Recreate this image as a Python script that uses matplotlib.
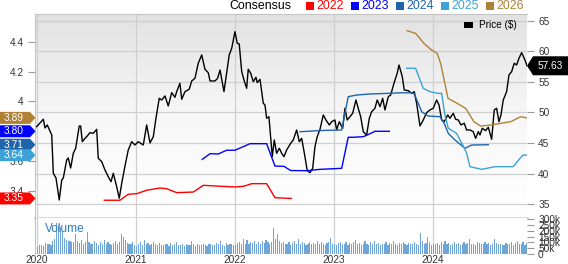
import numpy as np
import matplotlib
matplotlib.use("Agg")
import matplotlib.pyplot as plt
from matplotlib.colors import LinearSegmentedColormap
from matplotlib.patches import Polygon, Rectangle

plt.rcParams['font.family'] = ['Liberation Sans', 'DejaVu Sans']

# ---------- data (time in years since 2020-01-01) ----------
price_t = [0.000, 0.067, 0.084, 0.107, 0.152, 0.168, 0.195, 0.228, 0.253, 0.269,
           0.303, 0.319, 0.343, 0.370, 0.394, 0.430, 0.444, 0.461, 0.488, 0.511,
           0.538, 0.572, 0.606, 0.622, 0.657, 0.690, 0.723, 0.751, 0.774, 0.808,
           0.834, 0.859, 0.892, 0.925, 0.960, 0.993, 1.026, 1.077, 1.111, 1.145,
           1.178, 1.205, 1.238, 1.263, 1.296, 1.329, 1.364, 1.397, 1.414, 1.447,
           1.465, 1.498, 1.541, 1.566, 1.599, 1.632, 1.667, 1.700, 1.733, 1.751,
           1.801, 1.828, 1.852, 1.892, 1.945, 1.970, 2.003, 2.026, 2.046, 2.071,
           2.094, 2.121, 2.137, 2.162, 2.188, 2.215, 2.228, 2.256, 2.289, 2.306,
           2.323, 2.346, 2.380, 2.400, 2.424, 2.451, 2.475, 2.498, 2.525, 2.566,
           2.592, 2.626, 2.653, 2.677, 2.710, 2.733, 2.761, 2.788, 2.811, 2.834,
           2.862, 2.895, 2.922, 2.956, 2.980, 3.013, 3.030, 3.057, 3.091, 3.114,
           3.137, 3.165, 3.192, 3.225, 3.248, 3.273, 3.299, 3.333, 3.360, 3.384,
           3.417, 3.440, 3.468, 3.495, 3.518, 3.552, 3.576, 3.609, 3.642, 3.660,
           3.693, 3.713, 3.754, 3.788, 3.814, 3.838, 3.872, 3.905, 3.939, 3.973,
           4.006, 4.040, 4.064, 4.091, 4.117, 4.152, 4.175, 4.208, 4.232, 4.259,
           4.286, 4.319, 4.343, 4.377, 4.410, 4.434, 4.461, 4.478, 4.501, 4.535,
           4.562, 4.596, 4.622, 4.646, 4.670, 4.690, 4.713, 4.747, 4.771, 4.798,
           4.824, 4.848, 4.872, 4.899, 4.932, 4.953]
price_v = [47.68, 48.89, 47.47, 47.96, 46.32, 40.07, 39.30, 35.70, 38.97, 39.30,
           42.24, 42.57, 40.93, 43.33, 44.15, 47.79, 47.79, 45.23, 45.78, 46.16,
           46.70, 46.60, 47.25, 42.52, 41.96, 40.60, 39.51, 38.69, 40.07, 37.88,
           35.98, 38.43, 41.26, 43.87, 45.23, 44.69, 45.23, 44.69, 47.96, 45.02,
           46.05, 49.05, 52.32, 52.04, 52.70, 51.06, 53.24, 52.48, 53.40, 54.77,
           52.16, 53.40, 53.79, 55.15, 55.59, 58.04, 59.40, 57.06, 56.50, 55.15,
           55.15, 55.59, 56.94, 53.40, 59.40, 60.49, 63.20, 61.31, 61.19, 56.67,
           55.31, 53.95, 57.06, 56.41, 55.03, 55.75, 54.87, 55.42, 51.50, 51.23,
           49.05, 49.31, 42.78, 45.51, 43.33, 44.15, 43.33, 42.78, 43.87, 44.97,
           45.51, 47.14, 45.23, 45.78, 42.78, 40.49, 40.16, 40.88, 44.41, 46.05,
           47.25, 49.59, 48.77, 47.96, 48.50, 48.77, 47.14, 48.50, 47.42, 50.69,
           48.77, 49.31, 49.87, 52.04, 50.69, 49.31, 46.86, 46.32, 49.05, 50.13,
           50.69, 52.04, 50.95, 52.32, 50.41, 52.58, 52.86, 54.77, 56.41, 57.76,
           55.85, 53.68, 53.56, 53.14, 53.40, 51.50, 47.79, 48.77, 49.97, 50.41,
           50.69, 52.04, 51.23, 48.77, 48.50, 49.59, 49.05, 49.87, 48.89, 48.77,
           47.96, 48.24, 47.14, 47.14, 46.86, 45.78, 46.86, 46.32, 47.42, 47.03,
           47.58, 45.62, 50.41, 50.69, 48.50, 49.59, 52.04, 53.40, 56.13, 56.67,
           58.04, 57.76, 58.86, 59.77, 58.58, 57.63]

eps22_t = [0.683, 0.841, 0.925, 1.010, 1.111, 1.245, 1.313, 1.414, 1.582, 1.683,
           1.818, 2.003, 2.087, 2.172, 2.323, 2.407, 2.572]
eps22_v = [3.338, 3.338, 3.378, 3.382, 3.405, 3.420, 3.415, 3.389, 3.393, 3.438,
           3.433, 3.427, 3.431, 3.449, 3.449, 3.355, 3.35]

eps23_t = [1.673, 1.751, 1.834, 1.919, 2.003, 2.155, 2.323, 2.407, 2.498, 2.566,
           2.727, 2.862, 3.081, 3.147, 3.198, 3.299, 3.339, 3.417, 3.562]
eps23_v = [3.612, 3.650, 3.648, 3.673, 3.673, 3.717, 3.717, 3.567, 3.565, 3.537,
           3.536, 3.545, 3.552, 3.760, 3.760, 3.764, 3.775, 3.80, 3.80]

eps24_t = [2.660, 2.862, 3.081, 3.147, 3.232, 3.367, 3.535, 3.670, 3.788, 3.814,
           3.855, 3.889, 3.956, 4.074, 4.117, 4.158, 4.225, 4.326, 4.394, 4.562]
eps24_v = [3.797, 3.805, 3.809, 4.032, 4.043, 4.050, 4.054, 4.058, 4.058, 4.050,
           3.987, 3.931, 3.902, 3.898, 3.853, 3.786, 3.742, 3.686, 3.708, 3.71]

eps25_t = [3.737, 3.828, 3.905, 3.973, 4.057, 4.091, 4.124, 4.158, 4.242, 4.309,
           4.343, 4.377, 4.495, 4.629, 4.814, 4.882, 4.915, 4.949]
eps25_v = [4.222, 4.222, 4.088, 4.065, 4.054, 4.054, 3.909, 3.820, 3.786, 3.701,
           3.653, 3.563, 3.545, 3.563, 3.563, 3.619, 3.641, 3.64]

eps26_t = [3.743, 3.828, 3.912, 3.980, 4.046, 4.081, 4.155, 4.248, 4.333, 4.417,
           4.485, 4.586, 4.720, 4.788, 4.889, 4.949]
eps26_v = [4.474, 4.456, 4.389, 4.349, 4.322, 4.255, 4.021, 3.987, 3.954, 3.864,
           3.835, 3.842, 3.857, 3.864, 3.898, 3.89]

# weekly volume, thousands of shares
volume_k = [
    60, 75, 80, 70, 95, 85, 90, 80, 110, 130, 270, 250, 230,
    200, 140, 120, 110, 115, 100, 105, 175, 110, 95, 120, 90, 100,
    190, 100, 90, 85, 110, 95, 80, 105, 85, 120, 90, 100, 85,
    80, 95, 110, 90, 100, 175, 150, 120, 95, 85, 90, 105, 80,
    70, 90, 100, 80, 120, 85, 95, 75, 90, 100, 85, 80, 95,
    80, 75, 90, 85, 70, 95, 80, 85, 100, 75, 80, 90, 70,
    85, 75, 80, 110, 90, 70, 85, 80, 75, 90, 80, 70, 85,
    90, 75, 80, 95, 85, 110, 80, 70, 95, 80, 85, 90, 75,
    80, 95, 100, 85, 130, 90, 120, 85, 100, 95, 110, 90, 100,
    85, 110, 95, 120, 100, 90, 105, 225, 130, 170, 110, 95, 100,
    90, 85, 100, 80, 95, 110, 90, 130, 85, 100, 95, 80, 90,
    105, 85, 95, 90, 110, 85, 100, 90, 80, 95, 100, 140, 90,
    85, 80, 95, 100, 90, 85, 105, 80, 95, 90, 100, 120, 85,
    95, 80, 90, 115, 85, 80, 100, 90, 110, 85, 95, 80, 90,
    85, 100, 80, 95, 90, 110, 85, 80, 95, 90, 105, 85, 80,
    95, 90, 85, 100, 90, 80, 185, 110, 90, 95, 150, 100, 80,
    90, 85, 95, 80, 100, 90, 115, 85, 95, 80, 90, 105, 85,
    95, 80, 90, 100, 85, 95, 130, 85, 90, 80, 100, 95, 85,
    90, 100, 85, 95, 80, 90, 130, 95, 85, 90, 80, 75, 95,
    85, 90, 100, 80, 95, 110, 85, 90, 100, 80, 95, 90, 100,
]

years = [2020, 2021, 2022, 2023, 2024]
price_ticks = [35, 40, 45, 50, 55, 60, 65]
eps_ticks = [3.4, 3.6, 3.8, 4.0, 4.2, 4.4]
eps_tick_labels = ['3.4', '3.6', '3.8', '4', '4.2', '4.4']
vol_ticks = [0, 50, 100, 150, 200, 250, 300]
vol_tick_labels = ['0', '50k', '100k', '150k', '200k', '250k', '300k']

series = [
    ('2022', '#ff0000', eps22_t, eps22_v),
    ('2023', '#0000ff', eps23_t, eps23_v),
    ('2024', '#1f64ab', eps24_t, eps24_v),
    ('2025', '#3fa2d6', eps25_t, eps25_v),
    ('2026', '#b08035', eps26_t, eps26_v),
]

# ---------- figure ----------
W, H = 568, 264
fig = plt.figure(figsize=(W / 100, H / 100), dpi=100)
L, R = 35 / W, 527 / W
ax = fig.add_axes([L, 1 - 218 / H, R - L, (218 - 14) / H])
ax_v = fig.add_axes([L, 1 - 254 / H, R - L, (254 - 218) / H])
ax_e = ax.twinx()   # EPS axis (left), created before fixing tick sides

xlo, xhi = 2019.983, 2024.953
tick_col = '#333333'
grid_col = '#cfcfcf'
fs = 7.3

# gradient background in price panel
cm = LinearSegmentedColormap.from_list('bg', ['#e2e2e2', '#f7f7f7', '#ffffff'])
grad = np.linspace(0, 1, 256).reshape(-1, 1)
ax.imshow(grad, extent=[0, 1, 0, 1], transform=ax.transAxes, aspect='auto',
          cmap=cm, zorder=0)

# ---------- price (right axis) ----------
t = np.array(price_t) + 2020
ax.plot(t, price_v, color='black', lw=1.0, zorder=3)
ax.set_xlim(xlo, xhi)
ax.set_ylim(32.76, 66.09)
ax.yaxis.tick_right()
ax.yaxis.set_label_position('right')
ax.set_yticks(price_ticks)
ax.set_xticks(years)
ax.tick_params(axis='x', length=0, labelbottom=False)
ax.tick_params(axis='y', length=5, color='#999999', labelsize=fs,
               labelcolor=tick_col, pad=3, left=False, labelleft=False,
               right=True, labelright=True)
ax.grid(True, color=grid_col, lw=0.9, zorder=1)
for s in ['left', 'top']:
    ax.spines[s].set_color('#c4c4c4')
ax.spines['right'].set_visible(False)
ax.spines['bottom'].set_color('#d6d6d6')
ax.spines['bottom'].set_linewidth(2)

# ---------- EPS consensus lines (left axis) ----------
for name, col, et, ev in series:
    ax_e.plot(np.array(et) + 2020, ev, color=col, lw=1.0, zorder=2)
ax_e.set_ylim(3.219, 4.586)
ax_e.set_xlim(xlo, xhi)
ax_e.set_yticks(eps_ticks)
ax_e.set_yticklabels(eps_tick_labels)
ax_e.yaxis.tick_left()
ax_e.tick_params(axis='y', length=5, color='#999999', labelsize=fs,
                 labelcolor=tick_col, pad=3, left=True, right=False,
                 labelleft=True, labelright=False)
for s in ax_e.spines.values():
    s.set_visible(False)

# ---------- volume ----------
vt = 2020 + (np.arange(len(volume_k)) + 0.5) / 52
ax_v.bar(vt, volume_k, width=0.62 / 52, color='#6ea6d8', zorder=2)
ax_v.set_xlim(xlo, xhi)
ax_v.set_ylim(0, 312)
ax_v.yaxis.tick_right()
ax_v.set_yticks(vol_ticks)
ax_v.set_yticklabels(vol_tick_labels)
ax_v.set_xticks(years)
ax_v.set_xticklabels([str(y) for y in years])
ax_v.tick_params(axis='x', length=0, labelsize=fs, labelcolor=tick_col, pad=1)
ax_v.tick_params(axis='y', length=5, color='#999999', labelsize=fs,
                 labelcolor=tick_col, pad=3)
ax_v.grid(True, axis='x', color=grid_col, lw=0.9, zorder=1)
ax_v.spines['left'].set_color('#c4c4c4')
ax_v.spines['top'].set_visible(False)
ax_v.spines['right'].set_visible(False)
ax_v.spines['bottom'].set_visible(False)
ax_v.text(0.02, 0.7, 'Volume', transform=ax_v.transAxes, color='#2f7bbf',
          fontsize=8.6, va='center', ha='left', zorder=3)

# ---------- top legend ----------
fig.text(229 / W, 1 - 6 / H, 'Consensus', fontsize=8.9, color='black',
         va='center', ha='left')
for i, (name, col, et, ev) in enumerate(series):
    x0 = 306 + 45 * i
    fig.add_artist(Rectangle((x0 / W, 1 - 10 / H), 8 / W, 8 / H,
                             transform=fig.transFigure, color=col, lw=0))
    fig.text((x0 + 10) / W, 1 - 6 / H, name, fontsize=8.9, color=col,
             va='center', ha='left')

# price legend
fig.add_artist(Rectangle((464 / W, 1 - 28 / H), 9 / W, 6 / H,
                         transform=fig.transFigure, color='black', lw=0))
fig.text(479 / W, 1 - 25 / H, 'Price ($)', fontsize=7.2, color='black',
         va='center', ha='left')

# ---------- value badges ----------
to_fig = fig.transFigure.inverted()


def yfrac(axis, v):
    return to_fig.transform(axis.transData.transform((xhi, v)))[1]


badge_order = [4, 1, 2, 3, 0]
for k in badge_order:
    name, col, et, ev = series[k]
    yc = yfrac(ax_e, ev[-1])
    hh = 6 / H
    pts = [(0, yc - hh), (30 / W, yc - hh), (35.5 / W, yc),
           (30 / W, yc + hh), (0, yc + hh)]
    fig.add_artist(Polygon(pts, closed=True, transform=fig.transFigure,
                           color=col, lw=0))
    fig.text(13.5 / W, yc, f'{ev[-1]:.2f}', fontsize=7.4, color='white',
             va='center', ha='center')

yc = yfrac(ax, price_v[-1])
hh = 9.5 / H
pts = [(527 / W, yc), (533 / W, yc - hh), (1, yc - hh), (1, yc + hh),
       (533 / W, yc + hh)]
fig.add_artist(Polygon(pts, closed=True, transform=fig.transFigure,
                       color='black', lw=0))
fig.text(550 / W, yc, f'{price_v[-1]:.2f}', fontsize=7.3, color='white',
         va='center', ha='center')

fig.savefig('out.png', dpi=100)
